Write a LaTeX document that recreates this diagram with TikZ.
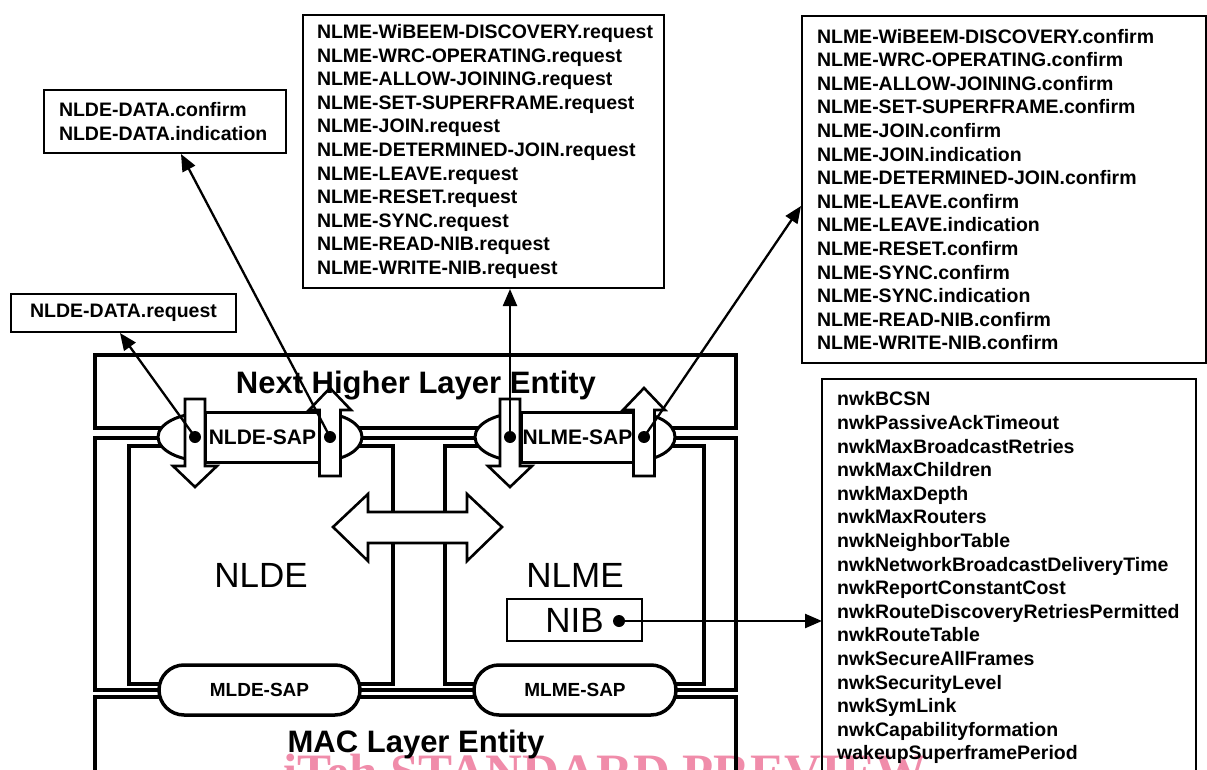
\documentclass[tikz,border=0pt]{standalone}
\usepackage{fontspec}
\setmainfont{Liberation Sans}
\newfontfamily\wmfont{Liberation Serif}
\usetikzlibrary{arrows.meta,calc}
\definecolor{wmpink}{RGB}{240,140,170}
\exhyphenpenalty=10000
\hyphenpenalty=10000
\newcommand\lstfnt{\fontsize{19.5pt}{23.6pt}\selectfont\bfseries\exhyphenpenalty=10000 \hyphenpenalty=10000 }
\newcommand\sapfnt{\fontsize{21pt}{24pt}\selectfont\bfseries}
\newcommand\msapfnt{\fontsize{19pt}{22pt}\selectfont\bfseries}
\newcommand\hdrfnt{\fontsize{31pt}{36pt}\selectfont\bfseries}
\newcommand\bigfnt{\fontsize{35pt}{40pt}\selectfont}
\newcommand\wmfnt{\fontsize{51pt}{56pt}\selectfont\wmfont\bfseries}
\tikzset{
  heavy/.style={line width=4pt},
  txtbox/.style={draw, line width=2pt, inner ysep=0pt, align=left, font=\lstfnt},
  conn/.style={line width=2.3pt, -{Triangle[length=17pt,width=14pt]}},
  dotn/.style={circle, fill, inner sep=0pt, minimum size=12pt},
  hollow/.style={draw, fill=white, line width=2.6pt, line join=miter},
  saprect/.style={draw, fill=white, line width=3pt, inner sep=0pt, minimum height=50pt, font=\sapfnt},
  sapcap/.style={draw, fill=white, line width=3pt},
  macsap/.style={draw, fill=white, line width=3.5pt, rounded corners=25pt, minimum height=50pt, inner sep=0pt, font=\msapfnt},
}
\begin{document}
\begin{tikzpicture}[x=1pt,y=-1pt]
\useasboundingbox (0,0) rectangle (1207,770);
\clip (0,0) rectangle (1207,770);
\fill[white] (0,0) rectangle (1207,770);

% watermark
\node[anchor=base west, font=\wmfnt, text=wmpink, inner sep=0pt] (wm) at (283,789) {iTeh STANDARD PREVIEW};

% layer structure
\draw[heavy] (95,355) rectangle (736,428);
\draw[heavy] (95,438) rectangle (736,690);
\draw[heavy] (95,800) -- (95,697) -- (736,697) -- (736,800);
\draw[heavy] (129,446) rectangle (393,684);
\draw[heavy] (445,446) rectangle (704,684);

% NIB
\node[draw, line width=2pt, minimum width=135pt, minimum height=42pt, font=\bigfnt, inner sep=0pt] (nib) at (574.5,620) {NIB};

% upper SAPs
\draw[sapcap] (205,437) ellipse [x radius=47pt, y radius=24pt];
\draw[sapcap] (320,437) ellipse [x radius=42pt, y radius=24pt];
\node[saprect, minimum width=115pt] (nldesap) at (262.5,437) {NLDE-SAP};
\draw[sapcap] (521,437) ellipse [x radius=46pt, y radius=24pt];
\draw[sapcap] (634,437) ellipse [x radius=41pt, y radius=24pt];
\node[saprect, minimum width=113pt] (nlmesap) at (577.5,437) {NLME-SAP};

% lower SAPs
\node[macsap, minimum width=201pt] (mldesap) at (259.5,690) {MLDE-SAP};
\node[macsap, minimum width=202pt] (mlmesap) at (575,690) {MLME-SAP};

% hollow arrows
\draw[hollow] (185,399) -- (205,399) -- (205,466) -- (217,466) -- (195,487) -- (173,466) -- (185,466) -- cycle;
\draw[hollow] (319.5,476) -- (340.5,476) -- (340.5,410) -- (351,410) -- (330,388) -- (309,410) -- (319.5,410) -- cycle;
\draw[hollow] (500,399) -- (520,399) -- (520,466) -- (532,466) -- (510,487) -- (488,466) -- (500,466) -- cycle;
\draw[hollow] (633.5,476) -- (654.5,476) -- (654.5,410) -- (665,410) -- (644,388) -- (623,410) -- (633.5,410) -- cycle;
\draw[hollow] (333,527) -- (368,494) -- (368,512) -- (467,512) -- (467,494) -- (502,527) -- (467,561) -- (467,543) -- (368,543) -- (368,561) -- cycle;

% labels
\node[anchor=base, font=\hdrfnt] (nhle) at (416,393) {Next Higher Layer Entity};
\node[anchor=base, font=\hdrfnt] (mac) at (416,752) {MAC Layer Entity};
\node[anchor=base, font=\bigfnt] (nlde) at (261,587) {NLDE};
\node[anchor=base, font=\bigfnt] (nlme) at (575,587) {NLME};

% primitive boxes
\node[txtbox, anchor=north west, minimum width=242pt, minimum height=63pt, text width=212pt, inner xsep=15pt] (dconf) at (43,89) {NLDE-DATA.confirm\\NLDE-DATA.indication};
\node[txtbox, align=center, anchor=north west, minimum width=225pt, minimum height=38pt] (dreq) at (10,293) {NLDE-DATA.request};
\node[txtbox, anchor=north west, minimum width=361pt, minimum height=273pt, text width=333pt, inner xsep=14pt] (mreq) at (302,14) {\mbox{NLME-WiBEEM-DISCOVERY.request}\\NLME-WRC-OPERATING.request\\NLME-ALLOW-JOINING.request\\NLME-SET-SUPERFRAME.request\\NLME-JOIN.request\\NLME-DETERMINED-JOIN.request\\NLME-LEAVE.request\\NLME-RESET.request\\NLME-SYNC.request\\NLME-READ-NIB.request\\NLME-WRITE-NIB.request};
\node[txtbox, anchor=north west, minimum width=404pt, minimum height=347pt, text width=374pt, inner xsep=15pt] (mconf) at (801,15) {NLME-WiBEEM-DISCOVERY.confirm\\NLME-WRC-OPERATING.confirm\\NLME-ALLOW-JOINING.confirm\\NLME-SET-SUPERFRAME.confirm\\NLME-JOIN.confirm\\NLME-JOIN.indication\\NLME-DETERMINED-JOIN.confirm\\NLME-LEAVE.confirm\\NLME-LEAVE.indication\\NLME-RESET.confirm\\NLME-SYNC.confirm\\NLME-SYNC.indication\\NLME-READ-NIB.confirm\\NLME-WRITE-NIB.confirm};

% NIB attribute list
\draw[line width=2pt] (822,800) |- (1196,379) -- (1196,800);
\coordinate (nwkL) at (822,379);
\node[anchor=north west, inner sep=0pt, align=left, font=\lstfnt] (nwk) at (837,391.5) {nwkBCSN\\nwkPassiveAckTimeout\\nwkMaxBroadcastRetries\\nwkMaxChildren\\nwkMaxDepth\\nwkMaxRouters\\nwkNeighborTable\\nwkNetworkBroadcastDeliveryTime\\nwkReportConstantCost\\nwkRouteDiscoveryRetriesPermitted\\nwkRouteTable\\nwkSecureAllFrames\\nwkSecurityLevel\\nwkSymLink\\nwkCapabilityformation\\wakeupSuperframePeriod};

% dots
\node[dotn] (d1) at (195,437) {};
\node[dotn] (d2) at (330,437) {};
\node[dotn] (d3) at (510,437) {};
\node[dotn] (d4) at (644,437) {};
\node[dotn] (d5) at (619,621) {};

% connectors
\draw[conn] (d1.center) -- ([xshift=110pt]dreq.south west);
\draw[conn] (d2.center) -- ([xshift=138pt]dconf.south west);
\draw[conn] (d3.center) -- (d3 |- mreq.south);
\draw[conn] (d4.center) -- ([yshift=-16.5pt]mconf.west);
\draw[conn] (d5.center) -- (d5 -| nwkL);
\end{tikzpicture}
\end{document}
